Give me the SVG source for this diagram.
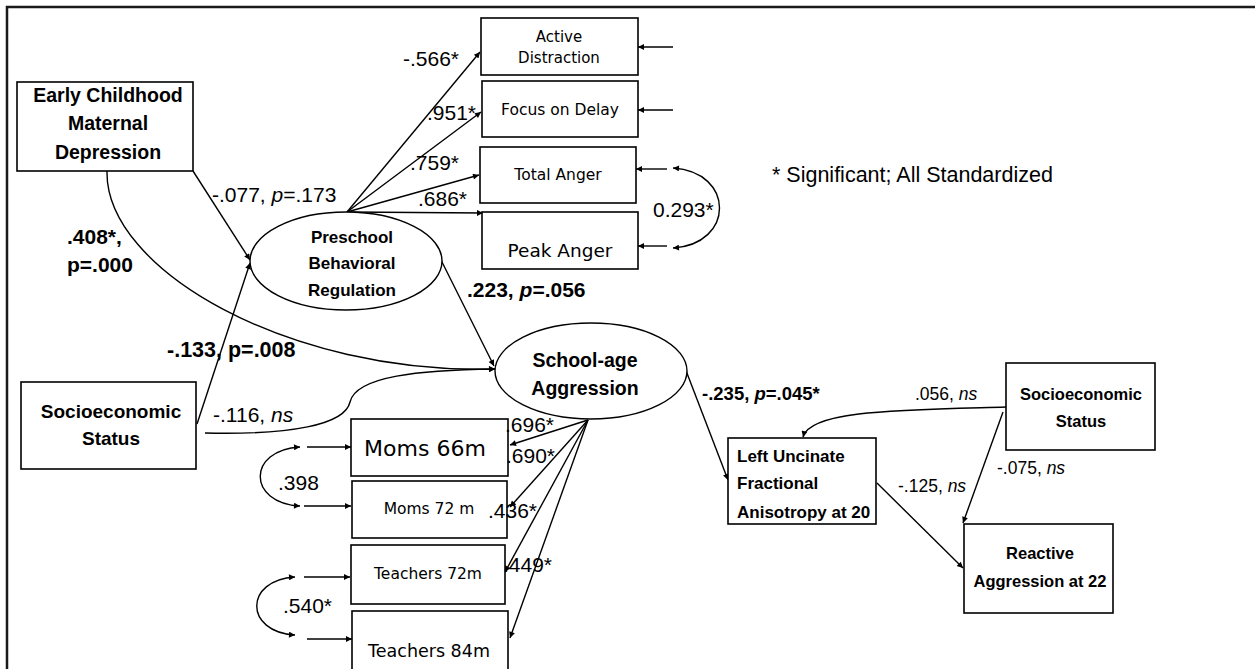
<svg xmlns="http://www.w3.org/2000/svg" width="1255" height="669" viewBox="0 0 1255 669">
  <style>
    .box { fill: #fff; stroke: #000; stroke-width: 1.6; }
    .oval { fill: #fff; stroke: #000; stroke-width: 1.4; }
    .ln { fill: none; stroke: #000; stroke-width: 1.4; }
    .arr { fill: none; stroke: #000; stroke-width: 1.4; marker-end: url(#ah); }
    .dbl { fill: none; stroke: #000; stroke-width: 1.4; marker-start: url(#ah); marker-end: url(#ah); }
    .b { font-family: "Liberation Sans", Arial, sans-serif; font-weight: bold; fill: #000; }
    .r { font-family: "Liberation Sans", Arial, sans-serif; fill: #000; }
    .g { font-family: "DejaVu Sans", "Liberation Sans", sans-serif; fill: #000; }
    .c { text-anchor: middle; }
  </style>
  <defs>
    <marker id="ah" viewBox="0 0 10 10" refX="10" refY="5" markerWidth="9" markerHeight="6" markerUnits="userSpaceOnUse" orient="auto-start-reverse">
      <path d="M0,0 L10,5 L0,10 z" fill="#000"/>
    </marker>
  </defs>

  <rect width="1255" height="669" fill="#fff"/>
  <!-- frame -->
  <path d="M7,669 V7 H1255" fill="none" stroke="#1a1a1a" stroke-width="2.5"/>

  <!-- connectors -->
  <g id="connectors">
    <!-- predictors to preschool regulation -->
    <line class="arr" x1="193" y1="171" x2="250" y2="260"/>
    <line class="arr" x1="197" y1="424" x2="250" y2="263"/>
    <!-- maternal depression to school-age aggression -->
    <path class="arr" d="M107,171 C105,270 290,375 495,369"/>
    <!-- SES to school-age aggression -->
    <path class="arr" d="M205,433 C290,435 345,425 350,402 C356,376 420,370 495,369"/>
    <!-- preschool regulation loadings -->
    <line class="arr" x1="347" y1="212" x2="480" y2="52"/>
    <line class="arr" x1="347" y1="212" x2="481" y2="112"/>
    <line class="arr" x1="347" y1="212" x2="479" y2="175"/>
    <line class="arr" x1="347" y1="212" x2="483" y2="213"/>
    <!-- preschool regulation to school-age aggression -->
    <line class="arr" x1="440" y1="258" x2="494" y2="366"/>
    <!-- school-age aggression loadings -->
    <line class="arr" x1="588" y1="420" x2="510" y2="445"/>
    <line class="arr" x1="588" y1="420" x2="510" y2="507"/>
    <line class="arr" x1="588" y1="420" x2="505" y2="572"/>
    <line class="arr" x1="588" y1="420" x2="510" y2="638"/>
    <!-- residual arrows -->
    <line class="arr" x1="673" y1="47" x2="638" y2="47"/>
    <line class="arr" x1="673" y1="110" x2="638" y2="110"/>
    <line class="arr" x1="667" y1="169" x2="636" y2="169"/>
    <line class="arr" x1="667" y1="246" x2="638" y2="246"/>
    <line class="arr" x1="307" y1="447" x2="351" y2="447"/>
    <line class="arr" x1="304" y1="506" x2="351" y2="506"/>
    <line class="arr" x1="304" y1="577" x2="350" y2="577"/>
    <line class="arr" x1="307" y1="639" x2="352" y2="639"/>
    <!-- residual covariances -->
    <path class="dbl" d="M673,168 C735,172 735,244 673,248"/>
    <path class="dbl" d="M300,447 C247,450 247,503 300,506"/>
    <path class="dbl" d="M295,577 C244,580 244,632 295,635"/>
    <!-- outcome paths -->
    <line class="arr" x1="685" y1="368" x2="728" y2="480"/>
    <path class="arr" d="M1006,407 C900,410 810,410 803,437"/>
    <line class="arr" x1="1003" y1="412" x2="963" y2="523"/>
    <line class="arr" x1="877" y1="483" x2="963" y2="568"/>
  </g>

  <!-- nodes -->
  <g id="maternal-depression">
    <rect class="box" x="17" y="82" width="176" height="89"/>
    <text class="b c" x="108" y="102" font-size="19.5">Early Childhood</text>
    <text class="b c" x="108" y="130" font-size="19.5">Maternal</text>
    <text class="b c" x="108" y="159" font-size="19.5">Depression</text>
  </g>

  <g id="ses-left">
    <rect class="box" x="21" y="382" width="175" height="87"/>
    <text class="b c" x="111" y="418" font-size="19">Socioeconomic</text>
    <text class="b c" x="111" y="445" font-size="19">Status</text>
  </g>

  <g id="preschool-regulation">
    <ellipse class="oval" cx="346" cy="261" rx="96" ry="49"/>
    <text class="b c" x="352" y="243" font-size="17">Preschool</text>
    <text class="b c" x="352" y="269" font-size="17">Behavioral</text>
    <text class="b c" x="352" y="296" font-size="17">Regulation</text>
  </g>

  <g id="active-distraction">
    <rect class="box" x="481" y="18" width="157" height="57"/>
    <text class="g c" x="559" y="42" font-size="15">Active</text>
    <text class="g c" x="559" y="63" font-size="15">Distraction</text>
  </g>

  <g id="focus-on-delay">
    <rect class="box" x="482" y="81" width="156" height="56"/>
    <text class="g c" x="560" y="115" font-size="15.5">Focus on Delay</text>
  </g>

  <g id="total-anger">
    <rect class="box" x="480" y="147" width="156" height="56"/>
    <text class="g c" x="558" y="180" font-size="15.5">Total Anger</text>
  </g>

  <g id="peak-anger">
    <rect class="box" x="482" y="212" width="156" height="57"/>
    <text class="g c" x="560" y="257" font-size="18.5">Peak Anger</text>
  </g>

  <g id="school-age-aggression">
    <ellipse class="oval" cx="591" cy="371" rx="96" ry="48"/>
    <text class="b c" x="585" y="367" font-size="19.5">School-age</text>
    <text class="b c" x="585" y="395" font-size="19.5">Aggression</text>
  </g>

  <g id="moms-66m">
    <rect class="box" x="351" y="419" width="157" height="57"/>
    <text class="g c" x="425" y="456" font-size="22">Moms 66m</text>
  </g>

  <g id="moms-72m">
    <rect class="box" x="352" y="481" width="155" height="57"/>
    <text class="g c" x="429" y="514" font-size="15.5">Moms 72 m</text>
  </g>

  <g id="teachers-72m">
    <rect class="box" x="351" y="545" width="154" height="59"/>
    <text class="g c" x="428" y="579" font-size="15.5">Teachers 72m</text>
  </g>

  <g id="teachers-84m">
    <rect class="box" x="352" y="611" width="156" height="70"/>
    <text class="g c" x="429" y="657" font-size="17.5">Teachers 84m</text>
  </g>

  <g id="left-uncinate-fa">
    <rect class="box" x="728" y="438" width="148" height="86"/>
    <text class="b" x="737" y="462" font-size="17">Left Uncinate</text>
    <text class="b" x="737" y="489" font-size="17">Fractional</text>
    <text class="b" x="737" y="518" font-size="17">Anisotropy at 20</text>
  </g>

  <g id="ses-right">
    <rect class="box" x="1006" y="363" width="149" height="87"/>
    <text class="b c" x="1081" y="400" font-size="16.5">Socioeconomic</text>
    <text class="b c" x="1081" y="427" font-size="16.5">Status</text>
  </g>

  <g id="reactive-aggression">
    <rect class="box" x="964" y="524" width="149" height="89"/>
    <text class="b c" x="1040" y="559" font-size="16.5">Reactive</text>
    <text class="b c" x="1040" y="587" font-size="16.5">Aggression at 22</text>
  </g>

  <!-- path labels, drawn last so they sit above box borders -->
  <g id="labels">
    <text class="r" x="212" y="202" font-size="21">-.077, <tspan font-style="italic">p</tspan>=.173</text>
    <text class="b" x="67" y="244" font-size="21">.408*,</text>
    <text class="b" x="67" y="272" font-size="21">p=.000</text>
    <text class="b" x="167" y="357" font-size="21.5">-.133, p=.008</text>
    <text class="r" x="213" y="422" font-size="21">-.116, <tspan font-style="italic">ns</tspan></text>
    <text class="b" x="467" y="297" font-size="21">.223, <tspan font-style="italic">p</tspan>=.056</text>
    <text class="r" x="403" y="66" font-size="21">-.566*</text>
    <text class="r" x="427" y="120" font-size="21">.951*</text>
    <text class="r" x="410" y="170" font-size="21">.759*</text>
    <text class="r" x="418" y="206" font-size="21">.686*</text>
    <text class="r" x="653" y="217" font-size="21">0.293*</text>
    <text class="r" x="772" y="182" font-size="21.5">* Significant; All Standardized</text>
    <text class="r" x="505" y="432" font-size="21">.696*</text>
    <text class="r" x="506" y="463" font-size="21">.690*</text>
    <text class="r" x="488" y="518" font-size="21">.436*</text>
    <text class="r" x="503" y="572" font-size="21">.449*</text>
    <text class="r" x="278" y="490" font-size="21">.398</text>
    <text class="r" x="283" y="613" font-size="21">.540*</text>
    <text class="b" x="702" y="400" font-size="18.5">-.235, <tspan font-style="italic">p</tspan>=.045*</text>
    <text class="r" x="915" y="400" font-size="17.5">.056, <tspan font-style="italic">ns</tspan></text>
    <text class="r" x="997" y="474" font-size="17.5">-.075, <tspan font-style="italic">ns</tspan></text>
    <text class="r" x="898" y="492" font-size="17.5">-.125, <tspan font-style="italic">ns</tspan></text>
  </g>
</svg>
